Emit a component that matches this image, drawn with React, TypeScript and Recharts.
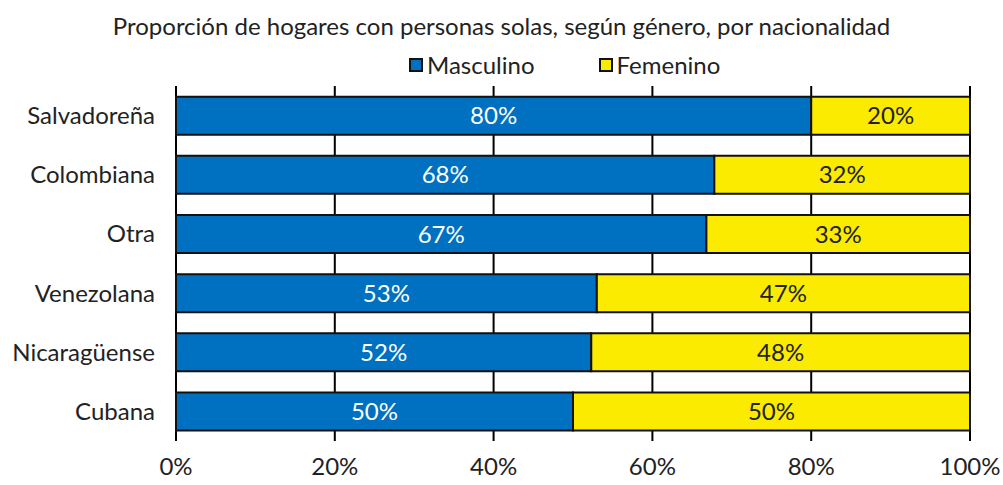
import React from 'react';
import { BarChart, Bar, XAxis, YAxis, CartesianGrid, LabelList } from 'recharts';

const title = 'Proporción de hogares con personas solas, según género, por nacionalidad';
const categories = ['Salvadoreña', 'Colombiana', 'Otra', 'Venezolana', 'Nicaragüense', 'Cubana'];
const masculino = [80, 67.8, 66.8, 53, 52.3, 50];
const femenino = [20, 32.2, 33.2, 47, 47.7, 50];
const xTicks = [0, 20, 40, 60, 80, 100];
const seriesNames = ['Masculino', 'Femenino'];
const colors = ['#0070C0', '#FAEB00'];

const data = categories.map((name, i) => ({ name, m: masculino[i], f: femenino[i] }));

const fmt = (v: any) => `${Math.round(Number(v))}%`;

export default function App() {
  return (
    <div style={{ position: 'absolute', left: 0, top: 0, width: 1003, height: 485, background: '#fff', fontFamily: 'Lato, "Noto Sans", sans-serif' }}>
      <div style={{ position: 'absolute', left: 0, top: 11, width: 1003, textAlign: 'center', fontSize: 24, lineHeight: '30px', color: '#222' }}>{title}</div>
      <div style={{ position: 'absolute', left: 409, top: 50, display: 'flex', alignItems: 'center', gap: 64, fontSize: 24, lineHeight: '30px', color: '#222' }}>
        {seriesNames.map((n, i) => (
          <div key={n} style={{ display: 'flex', alignItems: 'center' }}>
            <span style={{ display: 'inline-block', width: 10, height: 10, background: colors[i], border: '2px solid #111', marginRight: 4 }} />
            <span>{n}</span>
          </div>
        ))}
      </div>
      <BarChart
        width={1003}
        height={485}
        data={data}
        layout="vertical"
        margin={{ top: 86, right: 33, bottom: 14, left: 0 }}
        barCategoryGap="18%"
      >
        <CartesianGrid horizontal={false} stroke="#000" strokeWidth={2} />
        <XAxis
          type="number"
          domain={[0, 100]}
          ticks={xTicks}
          tickFormatter={(v: number) => `${v}%`}
          axisLine={false}
          tickLine={false}
          tickSize={0}
          tickMargin={17}
          tick={{ fill: '#222', fontSize: 24 }}
          interval={0}
        />
        <YAxis
          type="category"
          dataKey="name"
          width={176}
          axisLine={false}
          tickLine={false}
          tickSize={0}
          tickMargin={21}
          tick={{ fill: '#222', fontSize: 24 }}
          interval={0}
        />
        <Bar dataKey="m" name={seriesNames[0]} stackId="a" fill={colors[0]} stroke="#111" strokeWidth={2} isAnimationActive={false}>
          <LabelList dataKey="m" position="center" formatter={fmt} fill="#fff" fontSize={24} />
        </Bar>
        <Bar dataKey="f" name={seriesNames[1]} stackId="a" fill={colors[1]} stroke="#111" strokeWidth={2} isAnimationActive={false}>
          <LabelList dataKey="f" position="center" formatter={fmt} fill="#222" fontSize={24} />
        </Bar>
      </BarChart>
    </div>
  );
}
